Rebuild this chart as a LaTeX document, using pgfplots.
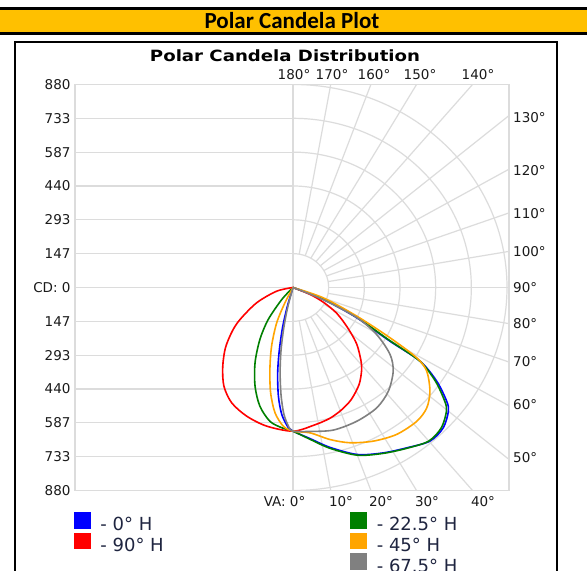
\documentclass[border=0pt]{standalone}
\usepackage{pgfplots}
\pgfplotsset{compat=1.18}
\usepackage{fontspec}
\usepackage{graphicx}
\setmainfont{DejaVu Sans}
\newfontfamily\calibri{Carlito}
\definecolor{gold}{HTML}{FFC000}
\definecolor{gridc}{HTML}{DCDCDC}
\definecolor{legtxt}{HTML}{1F2540}
\definecolor{lbltxt}{HTML}{1A1A1A}
\definecolor{cgreen}{HTML}{008000}
\definecolor{corange}{HTML}{FFA500}
\definecolor{cgray}{HTML}{808080}
\tikzset{lbl/.style={font=\fontsize{13.5bp}{16bp}\selectfont, text=lbltxt, inner sep=0pt, text height=9.9bp, text depth=0pt}}
\begin{document}
\begin{tikzpicture}[x=1bp,y=1bp]
\useasboundingbox (0,0) rectangle (587,571);
\clip (0,0) rectangle (587,571);
\fill[white] (0,0) rectangle (587,571);
% header bar
\fill[black] (0,561) rectangle (587,564);
\fill[gold] (0,539) rectangle (587,561);
\fill[black] (0,536) rectangle (587,539);
\node[font=\calibri\bfseries\fontsize{23bp}{26bp}\selectfont, inner sep=0pt] at (292,550) {Polar Candela Plot};
% chart box
\draw[black, line width=2bp] (15,-5) -- (15,529) -- (557,529) -- (557,-5);
\node[font=\bfseries\fontsize{15.5bp}{18bp}\selectfont, inner sep=0pt] at (285,515) {\scalebox{1.17}[1]{Polar Candela Distribution}};

\begin{axis}[
  at={(75bp,80.5bp)}, anchor=south west,
  scale only axis, width=434bp, height=406bp,
  xmin=-896.4, xmax=888.2, ymin=-880, ymax=880,
  xtick=\empty, ytick=\empty,
  axis line style={gridc, line width=1.5bp},
  clip=true,
  legend columns=2,
  legend cell align=left,
  legend image code/.code={\fill[#1] (0bp,-2bp) rectangle (16bp,13.5bp);},
  legend style={at={(-0.0023,-0.053)}, anchor=north west, draw=none, fill=none,
    inner sep=0pt, outer sep=0pt,
    font=\fontsize{18bp}{21bp}\selectfont, text=legtxt,
    nodes={inner sep=0pt, text height=13bp, text depth=3bp},
    row sep=-1bp,
    /tikz/every odd column/.append style={column sep=10bp}},
]
% left horizontal grid
\pgfplotsinvokeforeach{-880,-733.333,-586.667,-440,-293.333,-146.667,0,146.667,293.333,440,586.667,733.333,880}{
  \draw[gridc, line width=1.2bp] (axis cs:-1000,#1) -- (axis cs:0,#1);
}
\draw[gridc, line width=1.2bp] (axis cs:0,-1000) -- (axis cs:0,1000);
% concentric arcs (right half)
\pgfplotsinvokeforeach{146.667,293.333,440,586.667,733.333,880}{
  \draw[gridc, line width=1.2bp] (axis cs:0,#1) arc[start angle=90, end angle=-90, radius=#1];
}
% radial lines
\pgfplotsinvokeforeach{10,20,30,40,50,60,70,80,90,100,110,120,130,140,150,160,170}{
  \draw[gridc, line width=1.2bp] (axis cs:{146.667*sin(#1)},{-146.667*cos(#1)}) -- (axis cs:{2500*sin(#1)},{-2500*cos(#1)});
}

% 0 deg H (right) / 180 deg H (left)
\addplot[blue, line width=1.6bp, smooth, forget plot] coordinates {
(0,0) (125,-52) (262,-131) (399,-233) (522,-319) (591,-406) (632,-493) (639,-536) (618,-608) (563,-666) (468,-695) (371,-717) (265,-724) (152,-693) (70,-655) (0,-623)
(-19,-608) (-46,-551) (-60,-471) (-63,-370) (-56,-269) (-42,-168) (-23,-81) (0,0)};
% 22.5 deg H / 202.5 deg H
\addplot[cgreen, line width=1.6bp, smooth, forget plot] coordinates {
(0,0) (125,-50) (262,-129) (399,-231) (520,-318) (585,-405) (624,-493) (631,-536) (610,-608) (558,-666) (468,-697) (371,-719) (265,-727) (152,-697) (70,-658) (0,-623)
(-46,-608) (-95,-580) (-136,-515) (-156,-428) (-156,-326) (-136,-225) (-102,-139) (-46,-52) (0,0)};
% 90 deg H / 270 deg H
\addplot[red, line width=1.6bp, smooth, forget plot] coordinates {
(0,0) (70,-30) (125,-64) (180,-112) (225,-175) (262,-245) (280,-320) (282,-360) (272,-420) (240,-485) (200,-530) (150,-568) (83,-598) (0,-623)
(-108,-601) (-190,-558) (-252,-500) (-284,-428) (-289,-345) (-278,-262) (-250,-190) (-218,-139) (-149,-66) (-67,-16) (0,0)};
% 45 deg H / 225 deg H
\addplot[corange, line width=1.6bp, smooth, forget plot] coordinates {
(0,0) (125,-45) (262,-124) (399,-218) (509,-305) (550,-363) (563,-450) (550,-522) (509,-580) (426,-637) (330,-666) (234,-673) (152,-659) (70,-630) (0,-623)
(-40,-601) (-74,-543) (-92,-456) (-95,-355) (-88,-254) (-67,-153) (-33,-66) (0,0)};
% 67.5 deg H / 247.5 deg H
\addplot[cgray, line width=1.6bp, smooth, forget plot] coordinates {
(0,0) (123,-52) (262,-130) (344,-204) (399,-290) (412,-363) (392,-450) (344,-522) (262,-580) (166,-618) (70,-624) (0,-623)
(-16,-607) (-37,-551) (-49,-468) (-53,-368) (-49,-269) (-37,-169) (-21,-82) (0,0)};

% legend (two columns)
\addlegendimage{blue}
\addlegendentry{\makebox[250bp][l]{- 0° H}}
\addlegendimage{cgreen}
\addlegendentry{- 22.5° H}
\addlegendimage{red}
\addlegendentry{\makebox[250bp][l]{- 90° H}}
\addlegendimage{corange}
\addlegendentry{- 45° H}
\addlegendimage{empty legend}
\addlegendentry{}
\addlegendimage{cgray}
\addlegendentry{- 67.5° H}
\end{axis}

% left CD labels
\foreach \k/\t in {0/880,1/733,2/587,3/440,4/293,5/147,6/{CD: 0},7/147,8/293,9/440,10/587,11/733,12/880}{
  \node[lbl, anchor=east] at (70.7, {571-(84.5+\k*33.833)}) {\t};
}
% right angle labels
\foreach \t/\py in {130/117.3,120/170.3,110/213.6,100/251.7,90/287.5,80/323.3,70/361.4,60/404.7,50/457.7}{
  \node[lbl, anchor=west] at (513, {571-\py}) {\t°};
}
% top angle labels
\foreach \t/\px in {180/294,170/332,160/374,150/420,140/478}{
  \node[lbl] at (\px, 496.5) {\t°};
}
% bottom angle labels
\node[lbl, anchor=east] at (305.5, 69.5) {VA: 0°};
\foreach \t/\px in {10/341,20/381,30/427,40/483}{
  \node[lbl] at (\px, 69.5) {\t°};
}
\end{tikzpicture}
\end{document}
